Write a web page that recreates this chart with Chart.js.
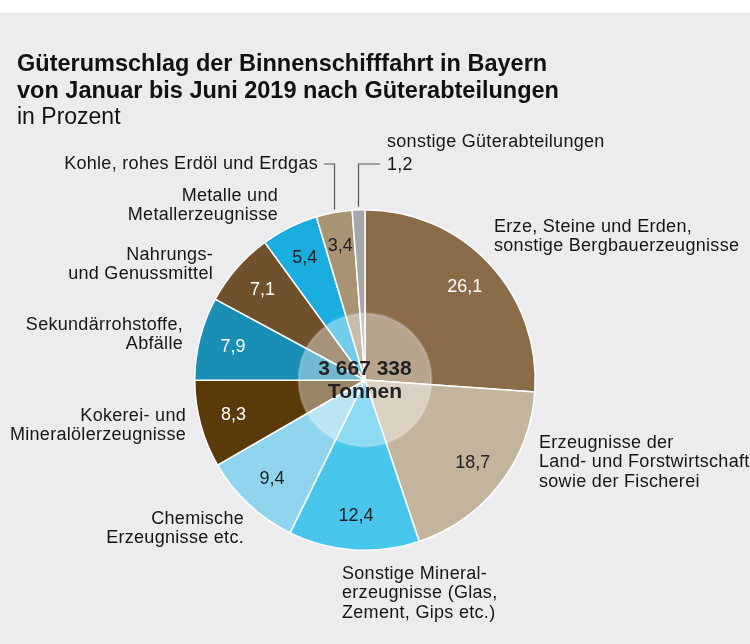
<!DOCTYPE html>
<html>
<head>
<meta charset="utf-8">
<script src="https://cdn.jsdelivr.net/npm/chart.js@4/dist/chart.umd.min.js"></script>
<style>
  html, body { margin: 0; padding: 0; background: #ffffff; }
  #bg { position: absolute; left: 0; top: 13px; width: 750px; height: 631px; background: #ececee; }
  #c { position: absolute; left: 0; top: 0; }
</style>
</head>
<body>
<div id="bg"></div>
<canvas id="c" width="750" height="644"></canvas>
<script>
const titleLines = ['Güterumschlag der Binnenschifffahrt in Bayern', 'von Januar bis Juni 2019 nach Güterabteilungen'];
const subtitle = 'in Prozent';
const categories = [
  'Erze, Steine und Erden,\nsonstige Bergbauerzeugnisse',
  'Erzeugnisse der\nLand- und Forstwirtschaft\nsowie der Fischerei',
  'Sonstige Mineral-\nerzeugnisse (Glas,\nZement, Gips etc.)',
  'Chemische\nErzeugnisse etc.',
  'Kokerei- und\nMineralölerzeugnisse',
  'Sekundärrohstoffe,\nAbfälle',
  'Nahrungs-\nund Genussmittel',
  'Metalle und\nMetallerzeugnisse',
  'Kohle, rohes Erdöl und Erdgas',
  'sonstige Güterabteilungen\n1,2'
];
const values = [26.1, 18.7, 12.4, 9.4, 8.3, 7.9, 7.1, 5.4, 3.4, 1.2];
const totalText = ['3 667 338', 'Tonnen'];
const colors = ['#8b6c48', '#c3b59d', '#48c5eb', '#90d5ee', '#5a3a08', '#1a8fb5', '#6f522b', '#1aaee0', '#a89474', '#a6a7ab'];
const valueTextColors = ['#ffffff', '#222222', '#222222', '#222222', '#ffffff', '#ffffff', '#ffffff', '#222222', '#222222', null];

// label layout (text placement only)
const labelLayout = [
  { x: 494, y: 227, align: 'left' },
  { x: 539, y: 443, align: 'left' },
  { x: 342, y: 574, align: 'left' },
  { x: 244, y: 519, align: 'right' },
  { x: 186, y: 416, align: 'right' },
  { x: 183, y: 325, align: 'right' },
  { x: 213, y: 255, align: 'right' },
  { x: 278, y: 196, align: 'right' },
  { x: 318, y: 164, align: 'right', leaderEnd: 324 },
  { x: 387, y: 142, align: 'left', leaderEnd: 380, leaderY: 164 }
];
const LH = 19.5;
const FONT = '"Liberation Sans", Arial, Helvetica, sans-serif';

const overlay = {
  id: 'overlay',
  afterDatasetsDraw(chart) {
    const ctx = chart.ctx;
    const meta = chart.getDatasetMeta(0);
    const a0 = meta.data[0];
    const cx = a0.x, cy = a0.y, R = a0.outerRadius;

    // inner translucent circle
    ctx.save();
    ctx.beginPath();
    ctx.arc(cx, cy, R * 0.39, 0, Math.PI * 2);
    ctx.fillStyle = 'rgba(255,255,255,0.38)';
    ctx.fill();
    ctx.lineWidth = 2.5;
    ctx.strokeStyle = 'rgba(255,255,255,0.18)';
    ctx.stroke();
    ctx.restore();

    // center text
    ctx.save();
    ctx.fillStyle = '#222222';
    ctx.textAlign = 'center';
    ctx.textBaseline = 'middle';
    ctx.font = 'bold 21px ' + FONT;
    ctx.fillText(totalText[0], cx, cy - 11);
    ctx.fillText(totalText[1], cx, cy + 12);
    ctx.restore();

    // value labels
    ctx.save();
    ctx.font = '18px ' + FONT;
    ctx.textAlign = 'center';
    ctx.textBaseline = 'middle';
    meta.data.forEach((arc, i) => {
      if (!valueTextColors[i]) return;
      const mid = (arc.startAngle + arc.endAngle) / 2;
      const r = arc.outerRadius * 0.8;
      ctx.fillStyle = valueTextColors[i];
      ctx.fillText(values[i].toFixed(1).replace('.', ','), arc.x + Math.cos(mid) * r, arc.y + Math.sin(mid) * r);
    });
    ctx.restore();

    // category labels
    ctx.save();
    ctx.font = '18px ' + FONT;
    ctx.fillStyle = '#161616';
    ctx.textBaseline = 'middle';
    try { ctx.letterSpacing = '0.3px'; } catch (e) {}
    categories.forEach((lab, i) => {
      const L = labelLayout[i];
      ctx.textAlign = L.align;
      lab.split('\n').forEach((line, k) => {
        ctx.fillText(line, L.x, L.y + k * (i === 9 ? 23 : LH));
      });
    });
    ctx.restore();

    // leader lines for the two small slices
    ctx.save();
    ctx.strokeStyle = '#555555';
    ctx.lineWidth = 1.2;
    [8, 9].forEach(i => {
      const arc = meta.data[i];
      const L = labelLayout[i];
      const mid = (arc.startAngle + arc.endAngle) / 2;
      const px = arc.x + Math.cos(mid) * (arc.outerRadius + 3);
      const py = arc.y + Math.sin(mid) * (arc.outerRadius + 3);
      const ly = L.leaderY || L.y;
      ctx.beginPath();
      ctx.moveTo(Math.round(px) + 0.5, py);
      ctx.lineTo(Math.round(px) + 0.5, ly);
      ctx.lineTo(L.leaderEnd, ly);
      ctx.stroke();
    });
    ctx.restore();
  },
  afterDraw(chart) {
    const ctx = chart.ctx;
    ctx.save();
    ctx.fillStyle = '#111111';
    ctx.textAlign = 'left';
    ctx.textBaseline = 'alphabetic';
    ctx.font = 'bold 23.5px ' + FONT;
    ctx.fillText(titleLines[0], 17, 71);
    ctx.fillText(titleLines[1], 17, 97.5);
    ctx.font = '23px ' + FONT;
    ctx.fillText(subtitle, 17, 124);
    ctx.restore();
  }
};

new Chart(document.getElementById('c'), {
  type: 'pie',
  data: {
    labels: categories,
    datasets: [{
      data: values,
      backgroundColor: colors,
      borderColor: '#ffffff',
      borderWidth: 1.5
    }]
  },
  options: {
    responsive: false,
    animation: false,
    layout: { padding: { left: 194, right: 214, top: 209, bottom: 93 } },
    plugins: { legend: { display: false }, tooltip: { enabled: false }, title: { display: false } }
  },
  plugins: [overlay]
});
</script>
</body>
</html>
